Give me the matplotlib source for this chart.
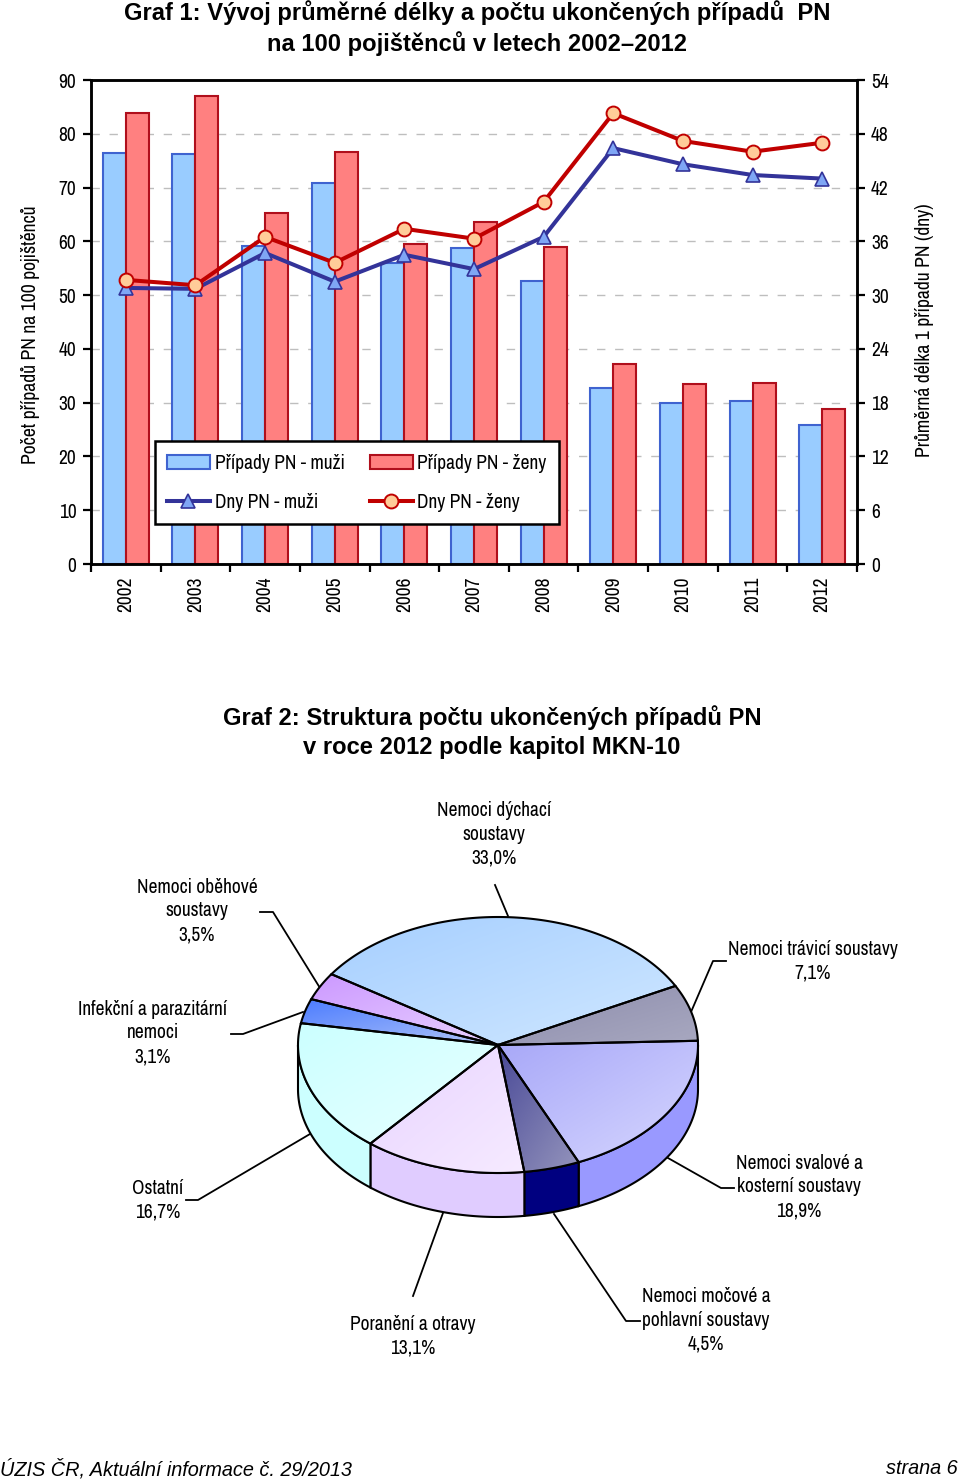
import numpy as np
import matplotlib
matplotlib.use("Agg")
import matplotlib.pyplot as plt
from matplotlib.patches import Polygon
from matplotlib.colors import to_rgb

plt.rcParams["font.family"] = ["Archivo Narrow", "Liberation Sans", "DejaVu Sans"]

# =================================
# DATA
# =================================

years = ["2002", "2003", "2004", "2005", "2006", "2007", "2008", "2009", "2010", "2011", "2012"]
cases_men = [76.4, 76.2, 59.1, 70.8, 56.0, 58.8, 52.6, 32.7, 29.9, 30.3, 25.8]
cases_women = [83.9, 87.0, 65.3, 76.6, 59.5, 63.6, 58.9, 37.2, 33.5, 33.7, 28.8]
days_men = [30.8, 30.7, 34.7, 31.5, 34.5, 32.9, 36.5, 46.4, 44.6, 43.4, 43.0]
days_women = [31.7, 31.1, 36.5, 33.6, 37.4, 36.3, 40.4, 50.3, 47.2, 46.0, 47.0]

pie_labels = ["Nemoci dýchací\nsoustavy\n33,0%", "Nemoci trávicí soustavy\n7,1%",
              "Nemoci svalové a\nkosterní soustavy\n18,9%", "Nemoci močové a\npohlavní soustavy\n4,5%",
              "Poranění a otravy\n13,1%", "Ostatní\n16,7%",
              "Infekční a parazitární\nnemoci\n3,1%", "Nemoci oběhové\nsoustavy\n3,5%"]
pie_values = [33.0, 7.1, 18.9, 4.5, 13.1, 16.7, 3.1, 3.5]

# barvy: gradient horni plochy a bok
pie_light = ["#A6CFFF", "#8C8CAC", "#A8A8F8", "#4A4A98", "#E8D4FF", "#CCFFFF", "#4D7DFF", "#CC99FF"]
pie_dark = ["#CFE7FF", "#A8A8C0", "#D6D6FF", "#9494BC", "#F6EAFF", "#E8FFFF", "#B0C4F8", "#E8D0FF"]
pie_side = ["#99CCFF", "#8080A0", "#9999FF", "#000080", "#E0CCFF", "#CCFFFF", "#3366FF", "#CC99FF"]

W, H = 960, 1482

fig = plt.figure(figsize=(W / 100, H / 100), dpi=100)

# =================================
# GRAF 1
# =================================

ax = fig.add_axes([91 / W, 1 - 564 / H, 766 / W, 484 / H])
ax2 = ax.twinx()

x = np.arange(len(years))
bw = 0.33

ax.set_axisbelow(True)
ax.yaxis.grid(True, color="#BEBEBE", linestyle=(0, (6, 7)), linewidth=1)
b1 = ax.bar(x - bw / 2, cases_men, bw, color="#99CCFF", edgecolor="#3F63D0", linewidth=1.5,
            label="Případy PN - muži")
b2 = ax.bar(x + bw / 2, cases_women, bw, color="#FF8080", edgecolor="#B00F1C", linewidth=1.5,
            label="Případy PN - ženy")

l1, = ax2.plot(x, days_men, color="#333399", linewidth=2.9, marker="^", markersize=10,
               markerfacecolor="#7FA6F5", markeredgecolor="#333399", markeredgewidth=1.2,
               label="Dny PN - muži")
l2, = ax2.plot(x, days_women, color="#C00000", linewidth=2.9, marker="o", markersize=10,
               markerfacecolor="#FFCC99", markeredgecolor="#C00000", markeredgewidth=1.4,
               label="Dny PN - ženy")

ax.set_xlim(-0.5, len(years) - 0.5)
ax.set_ylim(0, 90)
ax2.set_ylim(0, 54)
ax.set_yticks(range(0, 91, 10))
ax2.set_yticks(range(0, 55, 6))

ax.set_xticks(np.arange(len(years) + 1) - 0.5)
ax.set_xticklabels([])
ax.set_xticks(x, minor=True)
ax.set_xticklabels(years, minor=True, rotation=90, fontsize=14)
ax.tick_params(axis="x", which="minor", length=0, pad=9)
ax.tick_params(axis="x", which="major", length=6, width=1.6)
ax.tick_params(axis="y", length=6, width=1.6, labelsize=14, pad=4.5)
ax2.tick_params(axis="y", length=6, width=1.6, labelsize=14, pad=4)
for a in (ax, ax2):
    for s in a.spines.values():
        s.set_linewidth(1.8)

leg = ax2.legend([b1, l1, b2, l2],
                 ["Případy PN - muži", "Dny PN - muži", "Případy PN - ženy", "Dny PN - ženy"],
                 ncol=2, loc="lower left", bbox_to_anchor=(64 / 766, 40 / 484), borderaxespad=0,
                 fontsize=14, fancybox=False, framealpha=1, edgecolor="black",
                 handlelength=2.2, handletextpad=0.25, columnspacing=1.3, labelspacing=1.05,
                 borderpad=0.62)
leg.get_frame().set_linewidth(1.8)

# =================================
# VRSTVA S TEXTY A KOLACEM (v pixelech)
# =================================

ov = fig.add_axes([0, 0, 1, 1], facecolor="none")
ov.set_axis_off()

cx, cy, rx, ry, depth = 498, 1045, 200, 128, 44


def ell(t):
    t = np.radians(t)
    return np.column_stack([cx + rx * np.cos(t), cy - ry * np.sin(t)])


def gradient(c0, c1, n=40):
    c0, c1 = np.array(to_rgb(c0)), np.array(to_rgb(c1))
    u, v = np.meshgrid(np.linspace(0, 1, n), np.linspace(0, 1, n))
    f = ((u + v) / 2)[..., None]
    return c0 + (c1 - c0) * f


shares = np.array(pie_values) / np.sum(pie_values) * 360
starts = 146.4 - np.concatenate([[0], np.cumsum(shares)[:-1]])
ends = starts - shares

# boky
for a0, a1, col in zip(starts, ends, pie_side):
    lo, hi = max(a1, -180), min(a0, 0)
    if hi <= lo:
        continue
    arc = ell(np.linspace(hi, lo, 80))
    low = arc + [0, depth]
    ov.add_patch(Polygon(np.vstack([arc, low[::-1]]), closed=True, facecolor=col,
                         edgecolor="black", linewidth=1.5, zorder=2))

# horni plochy
for a0, a1, c0, c1 in zip(starts, ends, pie_light, pie_dark):
    pts = np.vstack([[cx, cy], ell(np.linspace(a0, a1, 120))])
    xa, ya = pts[:, 0], pts[:, 1]
    im = ov.imshow(gradient(c0, c1), extent=(xa.min(), xa.max(), ya.max(), ya.min()),
                   aspect="auto", zorder=3, interpolation="bilinear")
    edge = Polygon(pts, closed=True, facecolor="none", edgecolor="black", linewidth=1.5, zorder=4)
    ov.add_patch(edge)
    im.set_clip_path(edge)

ov.set_xlim(0, W)
ov.set_ylim(H, 0)

# odkazove cary
leaders = [
    [(495, 885), (508, 916)],
    [(726, 961), (713, 961), (691, 1012)],
    [(734, 1188), (721, 1188), (668, 1158)],
    [(640, 1321), (626, 1321), (554, 1214)],
    [(413, 1296), (443, 1213)],
    [(186, 1200), (198, 1200), (310, 1134)],
    [(231, 1034), (243, 1034), (303, 1012)],
    [(260, 912), (273, 912), (320, 988)],
]
for seg in leaders:
    seg = np.array(seg)
    ov.plot(seg[:, 0], seg[:, 1], color="black", linewidth=1.3, zorder=1)

label_pos = [(494, 834), (813, 961), (799, 1187), (706, 1320),
             (413, 1336), (158, 1200), (153, 1033), (197, 911)]
for (px, py), txt in zip(label_pos, pie_labels):
    ov.text(px, py, txt, ha="center", va="center", fontsize=14, linespacing=1.31, zorder=5)

# titulky
ov.text(477, 28, "Graf 1: Vývoj průměrné délky a počtu ukončených případů  PN\nna 100 pojištěnců v letech 2002–2012",
        ha="center", va="center", fontsize=17.15, fontweight="bold", family=["Liberation Sans"], linespacing=1.29)
ov.text(492, 732, "Graf 2: Struktura počtu ukončených případů PN\nv roce 2012 podle kapitol MKN-10",
        ha="center", va="center", fontsize=17.15, fontweight="bold", family=["Liberation Sans"], linespacing=1.29)

ov.text(31, 335, "Počet případů PN na 100 pojištěnců", rotation=90, ha="center", va="center", fontsize=14.2)
ov.text(925, 330, "Průměrná délka 1 případu PN (dny)", rotation=90, ha="center", va="center", fontsize=14.2)

# paticka
ov.text(0, 1469, "ÚZIS ČR, Aktuální informace č. 29/2013", ha="left", va="center", fontsize=14.3,
        style="italic", family=["Liberation Sans"])
ov.text(958, 1469, "strana 6", ha="right", va="center", fontsize=14.3, style="italic", family=["Liberation Sans"])

fig.savefig("out.png", dpi=100)
